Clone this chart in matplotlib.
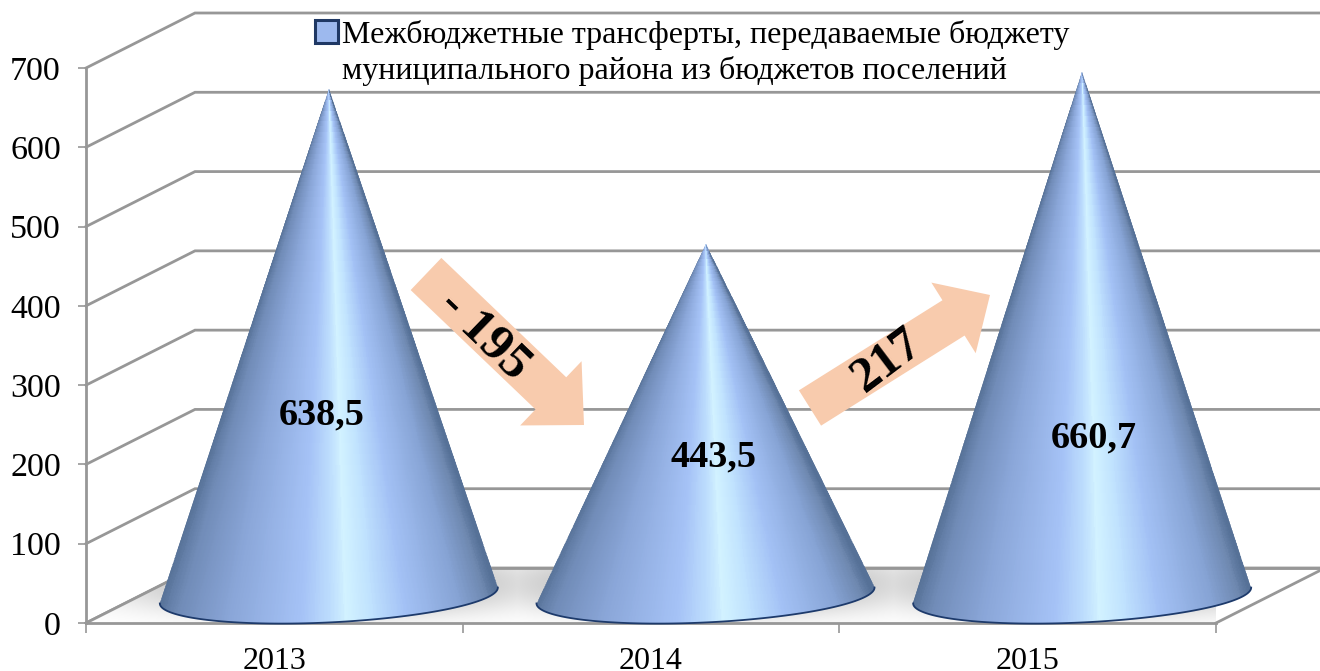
import numpy as np
import matplotlib
matplotlib.use("Agg")
import matplotlib.pyplot as plt
from matplotlib.colors import LinearSegmentedColormap
from matplotlib.patches import Polygon, FancyArrowPatch, Patch

years = ["2013", "2014", "2015"]
values = [638.5, 443.5, 660.7]
value_labels = ["638,5", "443,5", "660,7"]
y_ticks = [0, 100, 200, 300, 400, 500, 600, 700]
legend_lines = ["Межбюджетные трансферты, передаваемые бюджету",
                "муниципального района из бюджетов поселений"]
change_down = "- 195"
change_up = "217"

W, H = 1320, 671
plt.rcParams["font.family"] = ["Liberation Serif", "DejaVu Serif"]
fig = plt.figure(figsize=(W / 100, H / 100), dpi=100, facecolor="white")
L, R_, T, B = 86, 1216, 68, 623
ax = fig.add_axes([L / W, (H - B) / H, (R_ - L) / W, (B - T) / H])
ax.set_xlim(-0.5, 2.5)
ax.set_ylim(0, 700)
ax.patch.set_visible(False)

px_x = (R_ - L) / 3.0          # pixels per category
px_y = (B - T) / 700.0         # pixels per value unit
DX = 109 / px_x                # depth of the 3D box
DY = 55 / px_y
GRID = "#979797"
LW = 2.0

def fig_px(x, y):
    return (x / W, (H - y) / H)

# walls
for v in y_ticks:
    ax.plot([-0.5, -0.5 + DX, 2.5 + DX], [v, v + DY, v + DY], color=GRID, lw=LW,
            clip_on=False, zorder=1, solid_joinstyle="miter")
ax.plot([2.5, 2.5 + DX], [0, DY], color=GRID, lw=LW, clip_on=False, zorder=3)

# floor shadow
gx = np.linspace(-0.5, 2.5 + DX, 700)
gy = np.linspace(0, DY, 90)
XX, YY = np.meshgrid(gx, gy)
shade = np.zeros_like(XX)
for i in range(len(years)):
    d = np.hypot((XX - (i + DX / 2)) * px_x / 212.0, (YY - DY * 0.72) * px_y / 34.0)
    shade = np.maximum(shade, np.exp(-d ** 3))
shadow_cmap = LinearSegmentedColormap.from_list("sh", ["#ffffff", "#b8b8b8"])
img = ax.imshow(shade, extent=[gx[0], gx[-1], 0, DY], origin="lower", aspect="auto",
                cmap=shadow_cmap, vmin=0, vmax=1, zorder=2, interpolation="bilinear")
floor = Polygon([[-0.5, 0], [-0.5 + DX, DY], [2.5 + DX, DY], [2.5, 0]], closed=True,
                transform=ax.transData, fc="none", ec="none")
ax.add_patch(floor)
floor.set_clip_on(False)
img.set_clip_path(floor)
img.set_clip_box(None)
ax.set_xlim(-0.5, 2.5)
ax.set_ylim(0, 700)
ax.plot([-0.5 + DX, 2.5 + DX], [DY, DY], color=GRID, lw=LW, clip_on=False, zorder=3)
ax.plot([-0.5, -0.5 + DX], [0, DY], color=GRID, lw=LW, clip_on=False, zorder=3)

# cones
cone_cmap = LinearSegmentedColormap.from_list("cone", [
    (0.00, "#557095"), (0.07, "#718cb8"), (0.22, "#8aa6d8"), (0.42, "#a5c2f6"),
    (0.50, "#bcdcfd"), (0.55, "#d2f2ff"), (0.62, "#c0e2fe"), (0.72, "#a3c1f5"),
    (0.88, "#86a3d4"), (0.96, "#6f89b1"), (1.00, "#567197")])
RAD = 169 / px_x
BOW = 34.0
TILT = 10.0
label_dx = [0.125, 0.165, 0.175]
label_frac = [0.356, 0.395, 0.300]
for i, v in enumerate(values):
    xc = i + DX / 2
    yb = DY / 2
    apex = yb + v
    th = np.linspace(0, np.pi, 120)
    ax_arc = xc + RAD * np.cos(th)
    ay_arc = yb - BOW * np.sin(th) + TILT * np.cos(th)
    u = np.linspace(-1.06, 1.06, 260)
    t = np.linspace(0, 1.25, 60)
    U, Tt = np.meshgrid(u, t)
    Xm = xc + U * RAD * Tt
    Ym = apex + (yb - apex) * Tt
    C = np.clip((U[:-1, :-1] + 1) / 2, 0, 1)
    m = ax.pcolormesh(Xm, Ym, C, cmap=cone_cmap, vmin=0, vmax=1, zorder=4,
                      shading="flat", antialiased=False, linewidth=0)
    poly = Polygon(np.column_stack([np.r_[xc, ax_arc], np.r_[apex, ay_arc]]), closed=True,
                   transform=ax.transData, fc="none", ec="none")
    ax.add_patch(poly)
    poly.set_clip_on(False)
    m.set_clip_path(poly)
    m.set_clip_box(None)
    ax.plot(ax_arc, ay_arc, color="#1d3a6b", lw=1.3, zorder=5, clip_on=False)
    ax.text(i + label_dx[i], yb + v * label_frac[i], value_labels[i],
            ha="center", va="center", fontsize=27.5, fontweight="bold", zorder=8)
ax.set_xlim(-0.5, 2.5)
ax.set_ylim(0, 700)

# axes
for s in ("top", "right"):
    ax.spines[s].set_visible(False)
for s in ("left", "bottom"):
    ax.spines[s].set_color(GRID)
    ax.spines[s].set_linewidth(LW)
    ax.spines[s].set_zorder(3)
ax.set_yticks(y_ticks)
ax.set_yticklabels([str(v) for v in y_ticks])
ax.set_xticks(range(len(years)))
ax.set_xticklabels(years)
ax.set_xticks([-0.5, 0.5, 1.5, 2.5], minor=True)
ax.tick_params(axis="x", which="major", length=0, pad=17, labelsize=23)
ax.tick_params(axis="x", which="minor", length=7, width=1.2, color=GRID)
ax.tick_params(axis="y", length=6, width=1.2, color=GRID, pad=12, labelsize=24.5)

# change arrows
arrow_kw = dict(transform=fig.transFigure, fc="#f8cbad", ec="none", mutation_scale=1,
                shrinkA=0, shrinkB=0, zorder=6, clip_on=False)
fig.add_artist(FancyArrowPatch(fig_px(426, 274), fig_px(584, 425),
               arrowstyle="simple,head_length=33,head_width=64,tail_width=32", **arrow_kw))
fig.add_artist(FancyArrowPatch(fig_px(810, 408), fig_px(990, 295),
               arrowstyle="simple,head_length=31,head_width=60,tail_width=30", **arrow_kw))
fx, fy = fig_px(484, 335)
fig.text(fx, fy, change_down, rotation=-44, ha="center", va="center", rotation_mode="anchor",
         fontsize=37, fontweight="bold", zorder=9)
fx, fy = fig_px(888, 361)
fig.text(fx, fy, change_up, rotation=37, ha="center", va="center", rotation_mode="anchor",
         fontsize=36, fontweight="bold", zorder=9)

# legend: the key sits on the first of the two lines
lx, ly = fig_px(315, 20)
leg = fig.legend(handles=[Patch(fc="#9db9ee", ec="#1f3864", lw=2.2, label=legend_lines[0]),
                          Patch(fc="none", ec="none", label=legend_lines[1])],
                 loc="upper left", bbox_to_anchor=(lx, ly), frameon=False, fontsize=23,
                 borderpad=0, borderaxespad=0, handlelength=0.72, handleheight=0.72,
                 handletextpad=0.13, labelspacing=0.2)
leg.set_zorder(10)

fig.savefig("out.png", dpi=100, facecolor="white")
